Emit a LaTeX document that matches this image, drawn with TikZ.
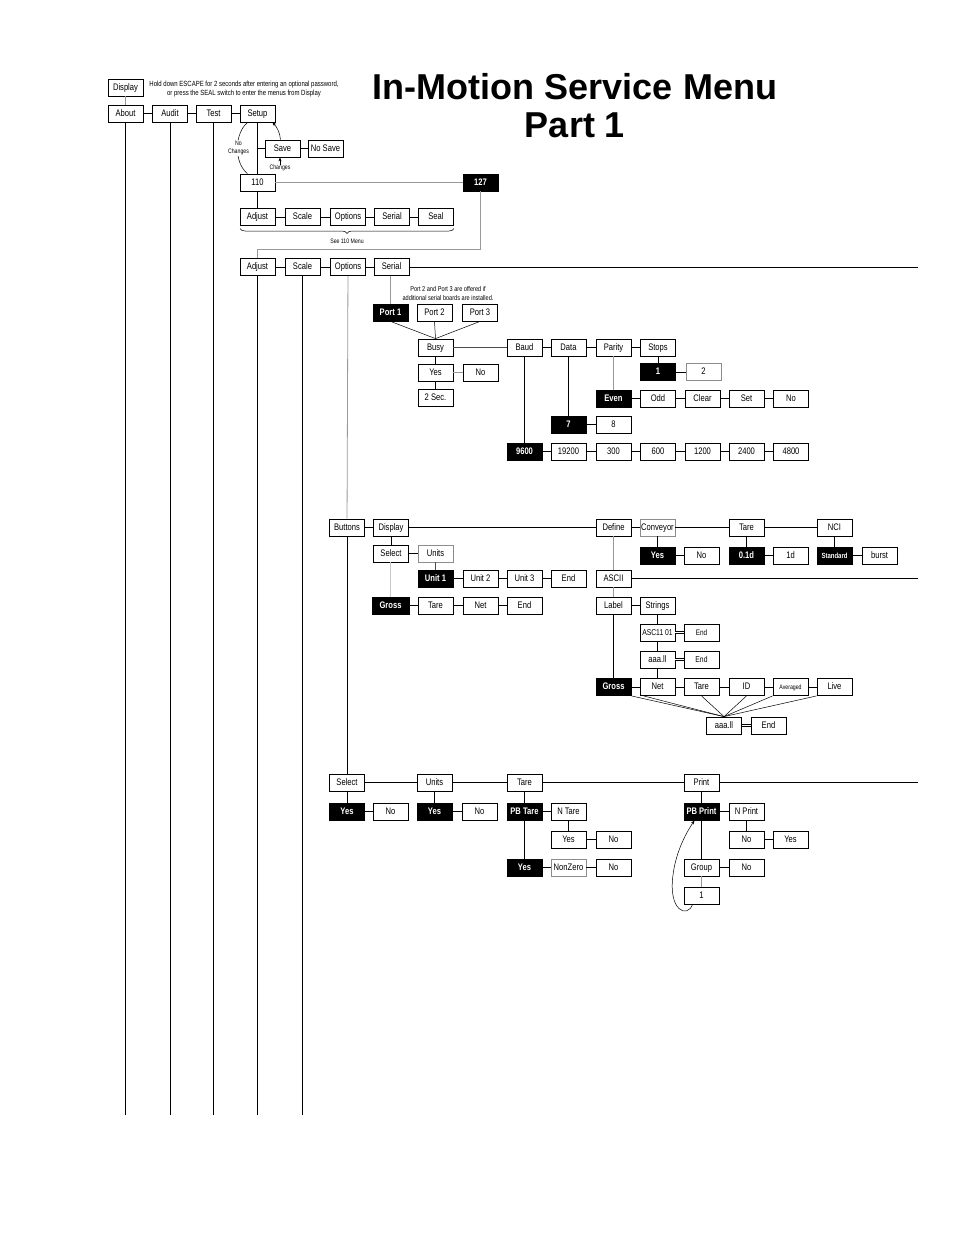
\documentclass[tikz,border=0pt]{standalone}
\usepackage{fontspec}
\setmainfont{Liberation Sans}
\newfontfamily\bxfam[FakeStretch=0.8]{Liberation Sans}
\usetikzlibrary{decorations.pathreplacing,arrows.meta}
\newcommand{\bxf}{\bxfam\fontsize{9.5}{10}\selectfont}
\newcommand{\smf}{\bxfam\fontsize{7.5}{9}\selectfont}
\begin{document}
\begin{tikzpicture}[x=1pt,y=-1pt,
  bx/.style={draw, line width=0.8pt, minimum width=35pt, minimum height=17pt, inner sep=0pt, text height=6.8pt, text depth=1.8pt, font=\bxf, fill=white},
  bk/.style={bx, fill=black, text=white, font=\bxf\bfseries},
  gb/.style={bx, draw=black!45},
  ln/.style={line width=0.8pt},
  gl/.style={line width=0.8pt, draw=black!40},
  lgl/.style={line width=0.8pt, draw=black!22},
  dbl/.style={double, double distance=1.6pt, line width=0.6pt},
  note/.style={font=\smf, align=center, inner sep=0pt},
  arr/.style={line width=0.5pt, -{Stealth[length=4pt,width=3pt]}}
]
\useasboundingbox (0,0) rectangle (954,1235);
\fill[white] (0,0) rectangle (954,1235);

% title
\node[font=\fontsize{36}{40}\selectfont\bfseries] (title1) at (575,87) {In-Motion Service Menu};
\node[font=\fontsize{36}{40}\selectfont\bfseries] (title2) at (575,125) {Part 1};

% top
\node[bx] (disp) at (125.5,87.5) {Display};
\node[note, anchor=center] (note1) at (244,89.5) {Hold down ESCAPE for 2 seconds after entering an optional password,\\or press the SEAL switch to enter the menus from Display};
\node[bx] (about) at (125.5,113.5) {About};
\node[bx] (audit) at (170,113.5) {Audit};
\node[bx] (test) at (213.5,113.5) {Test};
\node[bx] (setup) at (257.5,113.5) {Setup};
\node[bx] (save) at (282.5,148.5) {Save};
\node[bx] (nosave) at (325.5,148.5) {No Save};
\node[bx] (n110) at (257.5,182.5) {110};
\node[bk] (n127) at (480.5,182.5) {127};

\node[bx] (adjA) at (257.5,217) {Adjust};
\node[bx] (scaA) at (302.5,217) {Scale};
\node[bx] (optA) at (348,217) {Options};
\node[bx] (serA) at (392,217) {Serial};
\node[bx] (sealA) at (436,217) {Seal};
\node[note, font=\bxfam\fontsize{6.5}{8}\selectfont] (see110) at (347,241) {See 110 Menu};

\node[bx] (adjB) at (257.5,267) {Adjust};
\node[bx] (scaB) at (302.5,267) {Scale};
\node[bx] (optB) at (348,267) {Options};
\node[bx] (serB) at (391.5,267) {Serial};

% serial
\node[note, font=\bxfam\fontsize{7}{9}\selectfont] (portnote) at (448,293.5) {Port 2 and Port 3 are offered if\\additional serial boards are installed.};
\node[bk] (port1) at (390.5,312.5) {Port 1};
\node[bx] (port2) at (434.5,312.5) {Port 2};
\node[bx] (port3) at (480,312.5) {Port 3};
\node[bx] (busy) at (435.5,347.5) {Busy};
\node[bx] (baud) at (524.5,347.5) {Baud};
\node[bx] (data) at (568.5,347.5) {Data};
\node[bx] (parity) at (613.5,347.5) {Parity};
\node[bx] (stops) at (658,347.5) {Stops};
\node[bx] (yesB) at (435.5,372.5) {Yes};
\node[bx] (noB) at (480.5,372.5) {No};
\node[bx] (sec2) at (435.5,397.5) {2 Sec.};
\node[bk] (st1) at (658,372) {1};
\node[gb] (st2) at (703.5,372) {2};
\node[bk] (even) at (613.5,398.5) {Even};
\node[bx] (odd) at (658,398.5) {Odd};
\node[bx] (clear) at (702.5,398.5) {Clear};
\node[bx] (set) at (746.5,398.5) {Set};
\node[bx] (noP) at (791,398.5) {No};
\node[bk] (d7) at (568.5,424.5) {7};
\node[bx] (d8) at (613.5,424.5) {8};
\node[bk] (b9600) at (524.5,451.5) {9600};
\node[bx] (b19200) at (568.5,451.5) {19200};
\node[bx] (b300) at (613.5,451.5) {300};
\node[bx] (b600) at (658,451.5) {600};
\node[bx] (b1200) at (702.5,451.5) {1200};
\node[bx] (b2400) at (746.5,451.5) {2400};
\node[bx] (b4800) at (791,451.5) {4800};

% options / buttons
\node[bx] (buttons) at (347,527.5) {Buttons};
\node[bx] (dispC) at (391,527.5) {Display};
\node[bx] (define) at (613.5,527.5) {Define};
\node[gb] (conv) at (657.5,527.5) {Conveyor};
\node[bx] (tareC) at (746.5,527.5) {Tare};
\node[bx] (nci) at (834.5,527.5) {NCI};
\node[bk] (cyes) at (657.5,555.5) {Yes};
\node[bx] (cno) at (701.5,555.5) {No};
\node[bk] (t01) at (746.5,555.5) {0.1d};
\node[bx] (t1d) at (790.5,555.5) {1d};
\node[bk, font=\bxfam\fontsize{7.5}{8}\selectfont\bfseries] (std) at (834.5,555.5) {Standard};
\node[bx] (burst) at (879.5,555.5) {burst};
\node[bx] (selC) at (391,553.5) {Select};
\node[gb] (unitsC) at (435.5,553.5) {Units};
\node[bk] (unit1) at (435.5,578.5) {Unit 1};
\node[bx] (unit2) at (480.5,578.5) {Unit 2};
\node[bx] (unit3) at (524.5,578.5) {Unit 3};
\node[bx] (endU) at (568.5,578.5) {End};
\node[bk, minimum width=37pt] (grossC) at (390.5,605.5) {Gross};
\node[bx] (tareG) at (435.5,605.5) {Tare};
\node[bx] (netG) at (480.5,605.5) {Net};
\node[bx] (endG) at (524.5,605.5) {End};

\node[bx] (ascii) at (613.5,578.5) {ASCII};
\node[bx] (label) at (613.5,605.5) {Label};
\node[bx] (strings) at (657.5,605.5) {Strings};
\node[bx, font=\bxfam\fontsize{8.5}{9}\selectfont] (asc11) at (657.5,632.5) {ASC11 01};
\node[bx, font=\bxfam\fontsize{8}{9}\selectfont] (end1) at (701.5,632.5) {End};
\node[bx] (aaa1) at (657.5,659.5) {aaa.ll};
\node[bx, font=\bxfam\fontsize{8.5}{9}\selectfont] (end2) at (701.5,659.5) {End};
\node[bk] (gross2) at (613.5,687) {Gross};
\node[bx] (net2) at (657.5,687) {Net};
\node[bx] (tare2) at (701.5,687) {Tare};
\node[bx] (id) at (746.5,687) {ID};
\node[bx, font=\bxfam\fontsize{6.5}{7}\selectfont] (avg) at (790.5,687) {Averaged};
\node[bx] (live) at (834.5,687) {Live};
\node[bx] (aaa2) at (724,725.5) {aaa.ll};
\node[bx] (end3) at (768.5,725.5) {End};

% bottom
\node[bx] (sel3) at (347,782.5) {Select};
\node[bx] (units3) at (434.5,782.5) {Units};
\node[bx] (tare3) at (524.5,782.5) {Tare};
\node[bx] (print) at (701.5,782.5) {Print};
\node[bk] (yes3a) at (347,811.5) {Yes};
\node[bx] (no3a) at (390.5,811.5) {No};
\node[bk] (yes3b) at (434.5,811.5) {Yes};
\node[bx] (no3b) at (479.5,811.5) {No};
\node[bk] (pbtare) at (524.5,811.5) {PB Tare};
\node[bx] (ntare) at (568.5,811.5) {N Tare};
\node[bx] (yes3c) at (568.5,839.5) {Yes};
\node[bx] (no3c) at (613.5,839.5) {No};
\node[bk] (yes3d) at (524.5,867.5) {Yes};
\node[gb] (nonzero) at (568.5,867.5) {NonZero};
\node[bx] (no3d) at (613.5,867.5) {No};
\node[bk] (pbprint) at (701.5,811.5) {PB Print};
\node[bx] (nprint) at (746.5,811.5) {N Print};
\node[bx] (no3e) at (746.5,839.5) {No};
\node[bx] (yes3e) at (790.5,839.5) {Yes};
\node[bx] (group) at (701.5,867.5) {Group};
\node[bx] (no3f) at (746.5,867.5) {No};
\node[bx] (one) at (701.5,895.5) {1};

% coordinates
\coordinate (eAbout) at (125.5,1115);
\coordinate (eAudit) at (170,1115);
\coordinate (eTest) at (213.5,1115);
\coordinate (eAdj) at (257.5,1115);
\coordinate (eSca) at (302.5,1115);
\coordinate (c249) at (257.5,249);
\coordinate (eSer) at (918,267);
\coordinate (eAsc) at (918,578.5);
\coordinate (ePrint) at (918,782.5);

% connectors top
\draw[gl] (disp) -- (about);
\draw[ln] (about) -- (audit);
\draw[ln] (audit) -- (test);
\draw[ln] (test) -- (setup);
\draw[ln] (about) -- (eAbout);
\draw[ln] (audit) -- (eAudit);
\draw[ln] (test) -- (eTest);
\draw[ln] (setup) -- (n110);
\draw[ln] (save.west) -- (save.west -| setup.south);
\draw[ln] (save) -- (nosave);
\draw[arr] ([xshift=-2pt]save.north) .. controls (280,133) and (277,127) .. ([xshift=-3pt]setup.south east);
\draw[line width=0.5pt] ([xshift=-10pt]setup.south) .. controls (234,134) and (234,163) .. ([xshift=-10pt]n110.north);
\node[note, fill=white, inner sep=1pt, font=\bxfam\fontsize{6.5}{7.5}\selectfont] (nochg) at (238.5,148) {No\\Changes};
\node[note, font=\bxfam\fontsize{6.5}{7}\selectfont] (chg) at (280,168) {Changes};
\draw[arr] (chg.north) -- (chg.north |- save.south);
\draw[gl] (n110) -- (n127);
\draw[ln] (n110) -- (adjA);
\draw[ln] (adjA) -- (scaA);
\draw[ln] (scaA) -- (optA);
\draw[ln] (optA) -- (serA);
\draw[ln] (serA) -- (sealA);
\draw[line width=0.5pt, decorate, decoration={brace, amplitude=5pt, mirror}] (240,228.5) -- (454,228.5);
\draw[gl] (n127.south) |- (c249) -- (adjB.north);
\draw[ln] (adjB) -- (scaB);
\draw[ln] (scaB) -- (optB);
\draw[ln] (optB) -- (serB);
\draw[ln] (serB) -- (eSer);
\draw[ln] (adjB) -- (eAdj);
\draw[ln] (scaB) -- (eSca);
\draw[gl] (optB) -- (buttons);
\draw[ln] (buttons) -- (sel3);

% serial
\draw[gl] (port1.north |- serB.south) -- (port1.north);
\draw[line width=0.5pt] (port1.south) -- (busy.north);
\draw[line width=0.5pt] (port2.south) -- (busy.north);
\draw[line width=0.5pt] (port3.south) -- (busy.north);
\draw[line width=0.8pt, draw=black!70] (busy) -- (baud);
\draw[ln] (baud) -- (data);
\draw[ln] (data) -- (parity);
\draw[ln] (parity) -- (stops);
\draw[ln] (busy) -- (yesB);
\draw[gl] (yesB) -- (noB);
\draw[ln] (yesB) -- (sec2);
\draw[ln] (stops) -- (stops |- st1.north);
\draw[ln] (st1) -- (st2);
\draw[gl] (parity) -- (even);
\draw[ln] (even) -- (odd);
\draw[ln] (odd) -- (clear);
\draw[ln] (clear) -- (set);
\draw[ln] (set) -- (noP);
\draw[ln] (data) -- (d7);
\draw[ln] (d7) -- (d8);
\draw[ln] (baud) -- (b9600);
\draw[ln] (b9600) -- (b19200);
\draw[ln] (b19200) -- (b300);
\draw[ln] (b300) -- (b600);
\draw[ln] (b600) -- (b1200);
\draw[ln] (b1200) -- (b2400);
\draw[ln] (b2400) -- (b4800);

% buttons / display
\draw[ln] (buttons) -- (dispC);
\draw[ln] (dispC) -- (define);
\draw[ln] (define) -- (conv);
\draw[ln] (conv) -- (tareC);
\draw[ln] (tareC) -- (nci);
\draw[ln] (conv) -- (cyes);
\draw[ln] (cyes) -- (cno);
\draw[ln] (tareC) -- (t01);
\draw[ln] (t01) -- (t1d);
\draw[ln] (nci) -- (std);
\draw[ln] (std) -- (burst);
\draw[ln] (dispC) -- (selC);
\draw[ln] (selC) -- (unitsC);
\draw[line width=0.8pt, draw=black!70] (unitsC) -- (unit1);
\draw[ln] (unit1) -- (unit2);
\draw[ln] (unit2) -- (unit3);
\draw[ln] (unit3) -- (endU);
\draw[lgl] (selC.south -| grossC) -- (grossC);
\draw[ln] (grossC) -- (tareG);
\draw[ln] (tareG) -- (netG);
\draw[ln] (netG) -- (endG);
\draw[gl] (define) -- (ascii);
\draw[ln] (ascii) -- (eAsc);
\draw[gl] (ascii) -- (label);
\draw[ln] (label) -- (strings);
\draw[ln] (strings) -- (asc11);
\draw[dbl] (asc11) -- (end1);
\draw[ln] (asc11) -- (aaa1);
\draw[dbl] (aaa1) -- (end2);
\draw[ln] (aaa1) -- (net2);
\draw[ln] (label) -- (gross2);
\draw[ln] (gross2) -- (net2);
\draw[ln] (net2) -- (tare2);
\draw[ln] (tare2) -- (id);
\draw[ln] (id) -- (avg);
\draw[ln] (avg) -- (live);
\draw[line width=0.5pt] (gross2.south east) -- (aaa2.north);
\draw[line width=0.5pt] ([xshift=4pt]net2.south west) -- (aaa2.north);
\draw[line width=0.5pt] (tare2.south) -- (aaa2.north);
\draw[line width=0.5pt] (id.south) -- (aaa2.north);
\draw[line width=0.5pt] (avg.south west) -- (aaa2.north);
\draw[line width=0.5pt] (live.south west) -- (aaa2.north);
\draw[dbl] (aaa2) -- (end3);

% bottom
\draw[ln] (sel3) -- (units3);
\draw[ln] (units3) -- (tare3);
\draw[ln] (tare3) -- (print);
\draw[ln] (print) -- (ePrint);
\draw[ln] (sel3) -- (yes3a);
\draw[ln] (yes3a) -- (no3a);
\draw[ln] (units3) -- (yes3b);
\draw[ln] (yes3b) -- (no3b);
\draw[ln] (tare3) -- (pbtare);
\draw[ln] (pbtare) -- (ntare);
\draw[ln] (ntare) -- (yes3c);
\draw[ln] (yes3c) -- (no3c);
\draw[ln] (pbtare) -- (yes3d);
\draw[ln] (yes3d) -- (nonzero);
\draw[ln] (nonzero) -- (no3d);
\draw[ln] (print) -- (pbprint);
\draw[ln] (pbprint) -- (nprint);
\draw[ln] (nprint) -- (no3e);
\draw[ln] (no3e) -- (yes3e);
\draw[ln] (pbprint) -- (group);
\draw[ln] (group) -- (no3f);
\draw[gl] (group) -- (one);
\draw[arr] ([xshift=-9pt]one.south) .. controls (688,918) and (668,912) .. (673,875) .. controls (676,850) and (688,830) .. ([xshift=-7pt]pbprint.south);
\end{tikzpicture}
\end{document}
